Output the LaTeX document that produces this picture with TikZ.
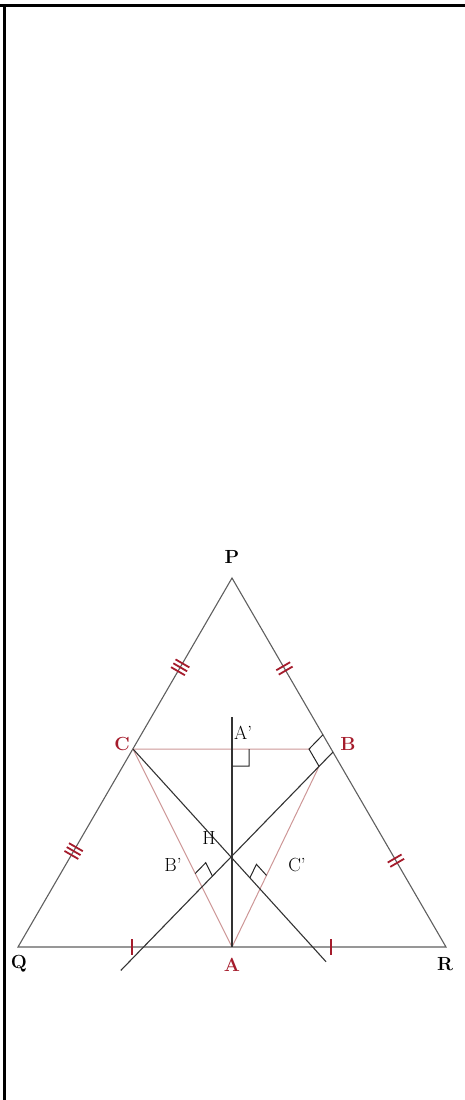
\documentclass[tikz,border=0pt]{standalone}
\usetikzlibrary{calc}

\definecolor{markred}{RGB}{165,28,44}
\definecolor{medpink}{RGB}{205,150,150}
\definecolor{sidegray}{RGB}{95,95,95}

% right angle mark: vertex, first arm, second arm, size
\newcommand{\rtmark}[4]{%
  \coordinate (rt1) at ($(#1)!#4!(#2)$);
  \coordinate (rt2) at ($(#1)!#4!(#3)$);
  \draw[rightang] (rt1) -- ($(rt1)+(rt2)-(#1)$) -- (rt2);}

% equal-length ticks: from, to, position, offsets
\newcommand{\tickmarks}[4]{%
  \coordinate (tk) at ($(#1)!#3!(#2)$);
  \foreach \d in {#4}
    \draw[tick] ($(tk)!\d!(#2)!8pt!90:(#2)$) -- ($(tk)!\d!(#2)!-8pt!90:(#2)$);}

\begin{document}
\begin{tikzpicture}[x=1pt, y=-1pt,
    side/.style={draw=sidegray, line width=1.1pt},
    medial/.style={draw=medpink, line width=1pt},
    altline/.style={draw=black!80, line width=1.1pt},
    rightang/.style={draw=black!85, line width=1pt},
    tick/.style={draw=markred, line width=1.8pt},
    vlabel/.style={font=\bfseries\fontsize{19}{19}\selectfont, inner sep=0pt},
    redlabel/.style={vlabel, text=markred},
    ptlabel/.style={font=\fontsize{19}{19}\selectfont, inner sep=0pt}]
    % page and frame
    \useasboundingbox (0,0) rectangle (465,1100);
    \draw[line width=3pt] (0,5) -- (465,5);
    \draw[line width=3pt] (4,5) -- (4,1100);

    % big triangle
    \coordinate (P) at (232,578);
    \coordinate (Q) at (18,947);
    \coordinate (R) at (446,947);
    \coordinate (A) at (232,947);
    \coordinate (C) at (133,749);
    \coordinate (B) at (333,752);
    \coordinate (H) at (231,857);
    \draw[side] (P) -- (Q) -- (R) -- cycle;

    % corner of the square at B
    \coordinate (Bu) at ($(B)!20pt!(P)$);
    \coordinate (Bv) at ($(B)!20pt!(H)$);
    \coordinate (Bw) at ($(Bu)+(Bv)-(B)$);

    % medial triangle
    \draw[medial] (C) -- (Bw);
    \draw[medial] (C) -- (A);
    \draw[medial] (A) -- (Bv);

    % altitudes through H
    \coordinate (Atop) at (232,717);
    \coordinate (Cend) at ($(C)!1.97!(H)$);
    \coordinate (Bend) at ($(B)!2.08!(H)$);
    \draw[altline] (A) -- (Atop);
    \draw[altline] (C) -- (Cend);
    \draw[altline] (B) -- (Bend);

    % feet of the altitudes
    \coordinate (Ap) at (intersection of A--Atop and C--Bw);
    \coordinate (Bp) at (intersection of B--H and C--A);
    \coordinate (Cp) at (intersection of C--H and A--Bv);

    % right angles
    \rtmark{B}{P}{H}{20pt}
    \rtmark{Ap}{Bw}{A}{17pt}
    \rtmark{Bp}{C}{H}{15pt}
    \rtmark{Cp}{H}{Bv}{15pt}

    % equal parts
    \tickmarks{Q}{R}{0.266}{0pt}
    \tickmarks{Q}{R}{0.731}{0pt}
    \tickmarks{P}{Q}{0.242}{-4.5pt,0pt,4.5pt}
    \tickmarks{P}{Q}{0.74}{-4.5pt,0pt,4.5pt}
    \tickmarks{P}{R}{0.245}{-2.5pt,2.5pt}
    \tickmarks{P}{R}{0.766}{-2.5pt,2.5pt}

    % vertex labels
    \node[vlabel] (lblP) at (232,557) {P};
    \node[vlabel] (lblQ) at (19,964) {Q};
    \node[vlabel] (lblR) at (445,964) {R};
    \node[redlabel] (lblA) at (232,965) {A};
    \node[redlabel] (lblB) at (348,744) {B};
    \node[redlabel] (lblC) at (122,744) {C};

    % point labels
    \node[ptlabel] (lblH) at (209,838) {H};
    \node[ptlabel, anchor=west] (lblAp) at (234,733) {A'};
    \node[ptlabel] (lblBp) at (173,865) {B'};
    \node[ptlabel] (lblCp) at (297,865) {C'};
\end{tikzpicture}
\end{document}
